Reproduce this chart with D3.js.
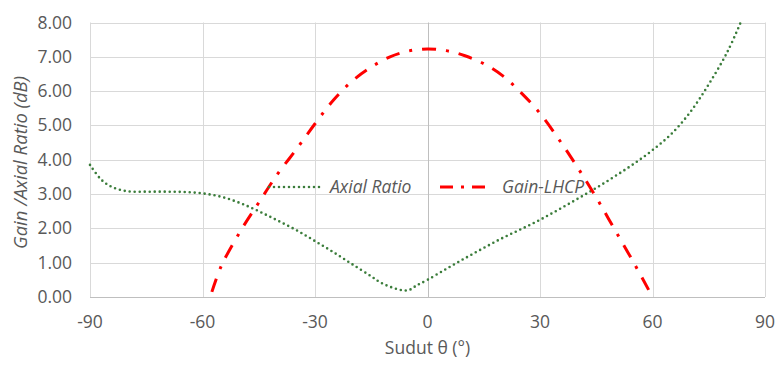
<!DOCTYPE html>
<html>
<head>
<meta charset="utf-8">
<script src="https://cdn.jsdelivr.net/npm/d3@7"></script>
<style>
  body { margin: 0; background: #fff; }
  text { font-family: "Open Sans", "Liberation Sans", sans-serif; fill: #595959; }
</style>
</head>
<body>
<svg id="chart" width="775" height="365"></svg>
<script>
// data
const arAngles = [-90, -87, -84, -80, -75, -70, -65, -60, -55, -50, -45, -40, -35, -30, -25, -20, -15, -12.5, -10, -7, -5, -3, 0,
                  5, 10, 15, 20, 25, 30, 35, 40, 45, 50, 55, 60, 65, 70, 75, 80, 83.5];
const arValues = [3.85, 3.42, 3.2, 3.08, 3.07, 3.07, 3.06, 3.02, 2.92, 2.74, 2.5, 2.23, 1.95, 1.63, 1.3, 0.95, 0.6, 0.42, 0.3, 0.2, 0.2, 0.33, 0.5,
                  0.82, 1.13, 1.43, 1.72, 1.98, 2.25, 2.55, 2.86, 3.18, 3.52, 3.88, 4.28, 4.75, 5.38, 6.2, 7.15, 8.0];

const gainAngles = [-57.5, -55, -50, -45, -40, -35, -30, -25, -20, -15, -10, -5, 0, 5, 10, 15, 20, 25, 30, 35, 40, 45, 50, 55, 60];
const gainValues = [0.15, 0.9, 1.9, 2.75, 3.58, 4.3, 5.05, 5.75, 6.3, 6.7, 7.0, 7.17, 7.23, 7.18, 7.03, 6.8, 6.45, 5.95, 5.35, 4.6, 3.78, 2.9, 1.95, 1.0, 0.0];

const xTicks = [-90, -60, -30, 0, 30, 60, 90];
const yTicks = [0, 1, 2, 3, 4, 5, 6, 7, 8];

const svg = d3.select("#chart");
const margin = {left: 90, right: 10, top: 22.5, bottom: 68};
const W = 775, H = 365;
const fs = 17.5;

const x = d3.scaleLinear().domain([-90, 90]).range([margin.left, W - margin.right]);
const y = d3.scaleLinear().domain([0, 8]).range([H - margin.bottom, margin.top]);

// gridlines
svg.append("g")
    .selectAll("line.h")
    .data(yTicks.slice(1))
    .join("line")
    .attr("x1", x(-90)).attr("x2", x(90))
    .attr("y1", d => Math.round(y(d)) + 0.5).attr("y2", d => Math.round(y(d)) + 0.5)
    .attr("stroke", "#d9d9d9").attr("stroke-width", 1);

svg.append("g")
    .selectAll("line.v")
    .data(xTicks.filter(d => d !== 0))
    .join("line")
    .attr("x1", d => Math.round(x(d)) + 0.5).attr("x2", d => Math.round(x(d)) + 0.5)
    .attr("y1", y(8)).attr("y2", y(0))
    .attr("stroke", "#d9d9d9").attr("stroke-width", 1);

// axis lines (vertical axis crosses at 0)
svg.append("line")
    .attr("x1", Math.round(x(0)) + 0.5).attr("x2", Math.round(x(0)) + 0.5)
    .attr("y1", y(8)).attr("y2", y(0))
    .attr("stroke", "#bfbfbf").attr("stroke-width", 1);
svg.append("line")
    .attr("x1", x(-90)).attr("x2", x(90))
    .attr("y1", Math.round(y(0)) + 0.5).attr("y2", Math.round(y(0)) + 0.5)
    .attr("stroke", "#bfbfbf").attr("stroke-width", 1);

// tick labels
svg.append("g")
    .selectAll("text")
    .data(yTicks)
    .join("text")
    .attr("x", 72).attr("y", d => y(d) + 6)
    .attr("text-anchor", "end")
    .attr("font-size", fs)
    .text(d => d.toFixed(2));

svg.append("g")
    .selectAll("text")
    .data(xTicks)
    .join("text")
    .attr("x", d => x(d)).attr("y", 328)
    .attr("text-anchor", "middle")
    .attr("font-size", fs)
    .text(d => d);

// axis titles
svg.append("text")
    .attr("x", x(0)).attr("y", 354)
    .attr("text-anchor", "middle")
    .attr("font-size", fs)
    .text("Sudut θ (°)");

svg.append("text")
    .attr("transform", `translate(27,162.5) rotate(-90)`)
    .attr("text-anchor", "middle")
    .attr("font-size", 18.5)
    .attr("font-style", "italic")
    .text("Gain /Axial Ratio (dB)");

const line = d3.line()
    .x(d => x(d[0]))
    .y(d => y(d[1]))
    .curve(d3.curveCatmullRom);

// Axial Ratio
svg.append("path")
    .datum(d3.zip(arAngles, arValues))
    .attr("d", line)
    .attr("fill", "none")
    .attr("stroke", "#3b7d3b")
    .attr("stroke-width", 2.6)
    .attr("stroke-linecap", "round")
    .attr("stroke-dasharray", "0,5");

// Gain-LHCP
svg.append("path")
    .datum(d3.zip(gainAngles, gainValues))
    .attr("d", line)
    .attr("fill", "none")
    .attr("stroke", "#ff0000")
    .attr("stroke-width", 3)
    .attr("stroke-dasharray", "14,10,3,10");

// legend
const legY = 187;
const leg = svg.append("g");
leg.append("line")
    .attr("x1", 269).attr("x2", 322).attr("y1", legY).attr("y2", legY)
    .attr("stroke", "#3b7d3b").attr("stroke-width", 2.6)
    .attr("stroke-linecap", "round").attr("stroke-dasharray", "0,5");
leg.append("text")
    .attr("x", 330).attr("y", legY + 6)
    .attr("font-size", fs).attr("font-style", "italic")
    .text("Axial Ratio");
leg.append("line")
    .attr("x1", 440).attr("x2", 488).attr("y1", legY).attr("y2", legY)
    .attr("stroke", "#ff0000").attr("stroke-width", 3)
    .attr("stroke-dasharray", "13,8,3,8");
leg.append("text")
    .attr("x", 502).attr("y", legY + 6)
    .attr("font-size", fs).attr("font-style", "italic")
    .text("Gain-LHCP");
</script>
</body>
</html>
